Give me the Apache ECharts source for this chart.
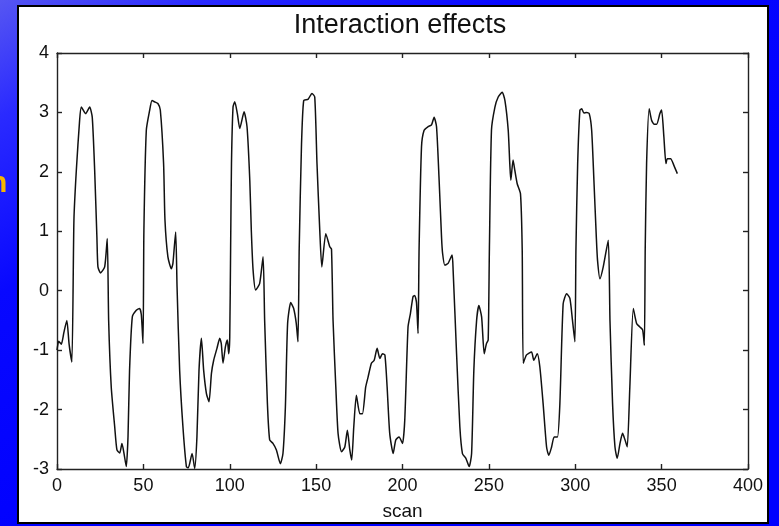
<!DOCTYPE html>
<html>
<head>
<meta charset="utf-8">
<script src="https://cdn.jsdelivr.net/npm/echarts@6/dist/echarts.min.js"></script>
<style>
  html, body { margin:0; padding:0; width:779px; height:526px; overflow:hidden;
    background: linear-gradient(150deg, #5656f2 0%, #2a2aff 12%, #0808ff 30%, #0000ff 60%); }
  #panel { position:absolute; left:17px; top:5px; width:748px; height:515px; background:#fff; border:2px solid #000; }
  #chart { position:absolute; left:0; top:0; width:779px; height:526px; }
</style>
</head>
<body>
<div id="panel"></div>
<div id="chart"></div>
<script>
const title = 'Interaction effects';
const xName = 'scan';
const xTicks = [0, 50, 100, 150, 200, 250, 300, 350, 400];
const yTicks = [-3, -2, -1, 0, 1, 2, 3, 4];
const scans = [
  0, 1, 2.5, 4, 5.7, 7, 8.6, 9.8, 11.2, 13.1, 14.1, 16.6, 18.9, 20.4, 21.8, 23.1, 23.7, 25.2, 27.6, 29.1,
  29.9, 31.4, 33.4, 34.7, 36.3, 37.6, 38.8, 40.1, 41.1, 42, 43.6, 45.9, 47.8, 48.8, 49.8, 50.3, 51.7, 53.6, 55, 56.4,
  58.4, 59.8, 61.7, 62.5, 64.2, 66.2, 67.1, 68.7, 69.5, 71, 72.9, 74.9, 76, 78.2, 79.7, 81, 82.2, 83.6, 84.9, 86.5,
  88, 89.4, 90.7, 92.6, 94.2, 95.1, 96.1, 97.5, 98.6, 99.4, 100, 100.5, 101, 101.9, 102.9, 104.4, 105.8, 108.3, 110, 111.6,
  112.5, 113.5, 115, 117.3, 119.3, 120.2, 121.8, 123.1, 125, 127, 129.3, 130.8, 132.2, 133.5, 135.3, 137, 138.5, 139.5, 140.2, 141.5,
  142.8, 145.3, 147.6, 149.2, 150.5, 152.1, 153.3, 155.6, 157.9, 158.9, 159.8, 161.4, 162.7, 164.7, 166.6, 168.1, 169.5, 170.6, 171.8, 173.3,
  175.3, 176.8, 178.7, 180.1, 182, 183.6, 185.3, 186.9, 188.4, 189.8, 191.1, 192.6, 194.6, 196.1, 198, 200, 201.3, 203.2, 204.6, 206.1,
  207.1, 208.1, 209, 209.6, 211, 212.5, 214.8, 216.8, 218.3, 219.7, 221.2, 222.6, 223.2, 224.5, 226.4, 228.7, 229.3, 231.3, 233.2, 234.7,
  236.7, 238.6, 240, 241.3, 242.9, 244.2, 245.8, 247.3, 248.6, 249.6, 250.3, 251.5, 253.5, 255.4, 257.7, 259.3, 261.2, 262.1, 262.7, 264,
  265, 266.4, 268.3, 269.3, 269.9, 271.8, 274.7, 276, 278, 279.5, 281.4, 283.4, 284.7, 286.3, 287.8, 289.7, 291.1, 293, 295, 296.9,
  298.4, 299.8, 300.4, 301.4, 302.7, 303.7, 305, 306.6, 308.1, 309.5, 310.8, 312.2, 312.9, 314.3, 316.2, 319.1, 320.1, 321.6, 323, 324.3,
  325.9, 327.4, 328.8, 330.1, 331.6, 333.6, 335.5, 337.4, 339, 340, 340.5, 341.3, 342.8, 344.2, 345.7, 347.1, 349, 350, 351.3, 352.5,
  353.3, 355.2, 357.1, 359.1
];
const effects = [
  -1.0, -0.85, -0.9, -0.7, -0.5, -0.9, -1.2, 1.19, 2.03, 2.87, 3.09, 2.98, 3.09, 2.92, 2.03, 0.9, 0.4, 0.3, 0.4, 0.88,
  -0.5, -1.62, -2.29, -2.68, -2.73, -2.57, -2.74, -2.96, -2.46, -1.34, -0.44, -0.33, -0.3, -0.4, -0.89, 1.0, 2.7, 3.03, 3.2, 3.18,
  3.15, 3.04, 2.14, 1.19, 0.57, 0.37, 0.46, 0.99, 0.06, -1.34, -2.29, -2.96, -2.98, -2.74, -2.99, -2.46, -1.34, -0.8, -1.34, -1.73,
  -1.87, -1.39, -1.17, -0.97, -0.8, -0.89, -1.22, -0.94, -0.83, -1.06, -0.78, 0.7, 2.14, 3.09, 3.18, 2.98, 2.73, 3.01, 2.76, 1.86,
  1.0, 0.35, 0.01, 0.12, 0.57, -0.5, -1.9, -2.51, -2.57, -2.68, -2.91, -2.74, -1.96, -0.55, -0.2, -0.3, -0.55, -0.86, 0.7, 2.42,
  3.2, 3.22, 3.32, 3.26, 2.14, 1.02, 0.4, 0.96, 0.74, 0.7, -0.5, -1.62, -2.4, -2.71, -2.63, -2.35, -2.68, -2.85, -2.29, -1.76,
  -2.07, -2.07, -1.62, -1.45, -1.22, -1.17, -0.97, -1.14, -1.06, -1.08, -1.62, -2.4, -2.74, -2.51, -2.46, -2.57, -2.18, -0.61, -0.38, -0.1,
  -0.08, -0.2, -0.72, 0.7, 2.42, 2.7, 2.76, 2.79, 2.92, 2.76, 1.86, 0.9, 0.63, 0.43, 0.46, 0.6, 0.35, -1.06, -2.29, -2.74,
  -2.82, -2.96, -2.74, -1.34, -0.5, -0.25, -0.44, -1.06, -0.89, -0.83, 0.7, 2.7, 3.09, 3.26, 3.34, 3.2, 2.7, 2.14, 1.86, 2.2,
  2.03, 1.8, 1.63, 0.68, -1.22, -1.08, -1.03, -1.17, -1.06, -1.28, -1.9, -2.63, -2.77, -2.63, -2.46, -2.46, -1.9, -0.22, -0.05, -0.13,
  -0.5, -0.86, 0.7, 2.14, 3.04, 3.06, 2.99, 3.0, 2.98, 2.7, 1.86, 0.9, 0.51, 0.2, 0.4, 0.85, -0.5, -1.9, -2.63, -2.82,
  -2.57, -2.4, -2.51, -2.63, -1.62, -0.3, -0.55, -0.61, -0.66, -0.92, 0.7, 2.14, 3.06, 2.87, 2.8, 2.8, 2.98, 3.04, 2.59, 2.14,
  2.22, 2.22, 2.11, 1.97
];

const chart = echarts.init(document.getElementById('chart'), null, { renderer: 'canvas' });
const pts = scans.map((s, i) => [s, effects[i]]);
const FONT = '"Liberation Sans", Arial, Helvetica, sans-serif';
const axisLine = { show: true, onZero: false, lineStyle: { color: '#222', width: 1.4 } };
const tick = { show: true, inside: true, length: 5, lineStyle: { color: '#222', width: 1.4 } };

chart.setOption({
  backgroundColor: 'transparent',
  animation: false,
  grid: { left: 57, right: 31, top: 53, bottom: 57, containLabel: false },
  graphic: [
    { type: 'text', x: 400, y: 26, style: { text: title, font: '27px ' + FONT, fill: '#111', align: 'center', verticalAlign: 'middle' } },
    { type: 'text', x: -11, y: 184, style: { text: 'n', font: 'bold 30px ' + FONT, fill: '#f7b500', align: 'left', verticalAlign: 'middle' } }
  ],
  xAxis: [
    { type: 'value', min: xTicks[0], max: xTicks[xTicks.length - 1], interval: 50, position: 'bottom',
      axisLine, axisTick: tick, splitLine: { show: false },
      axisLabel: { fontSize: 18, color: '#111', fontFamily: FONT, margin: 8 },
      name: xName, nameLocation: 'middle', nameGap: 33,
      nameTextStyle: { fontSize: 19, color: '#111', fontFamily: FONT } },
    { type: 'value', min: xTicks[0], max: xTicks[xTicks.length - 1], interval: 50, position: 'top',
      axisLine, axisTick: tick, splitLine: { show: false }, axisLabel: { show: false } }
  ],
  yAxis: [
    { type: 'value', min: yTicks[0], max: yTicks[yTicks.length - 1], interval: 1, position: 'left',
      axisLine, axisTick: tick, splitLine: { show: false },
      axisLabel: { fontSize: 18, color: '#111', fontFamily: FONT, margin: 8 } },
    { type: 'value', min: yTicks[0], max: yTicks[yTicks.length - 1], interval: 1, position: 'right',
      axisLine, axisTick: tick, splitLine: { show: false }, axisLabel: { show: false } }
  ],
  series: [{
    type: 'line', data: pts, xAxisIndex: 0, yAxisIndex: 0, showSymbol: false, smooth: 0.2,
    lineStyle: { color: '#111', width: 1.5 }
  }]
});
</script>
</body>
</html>
